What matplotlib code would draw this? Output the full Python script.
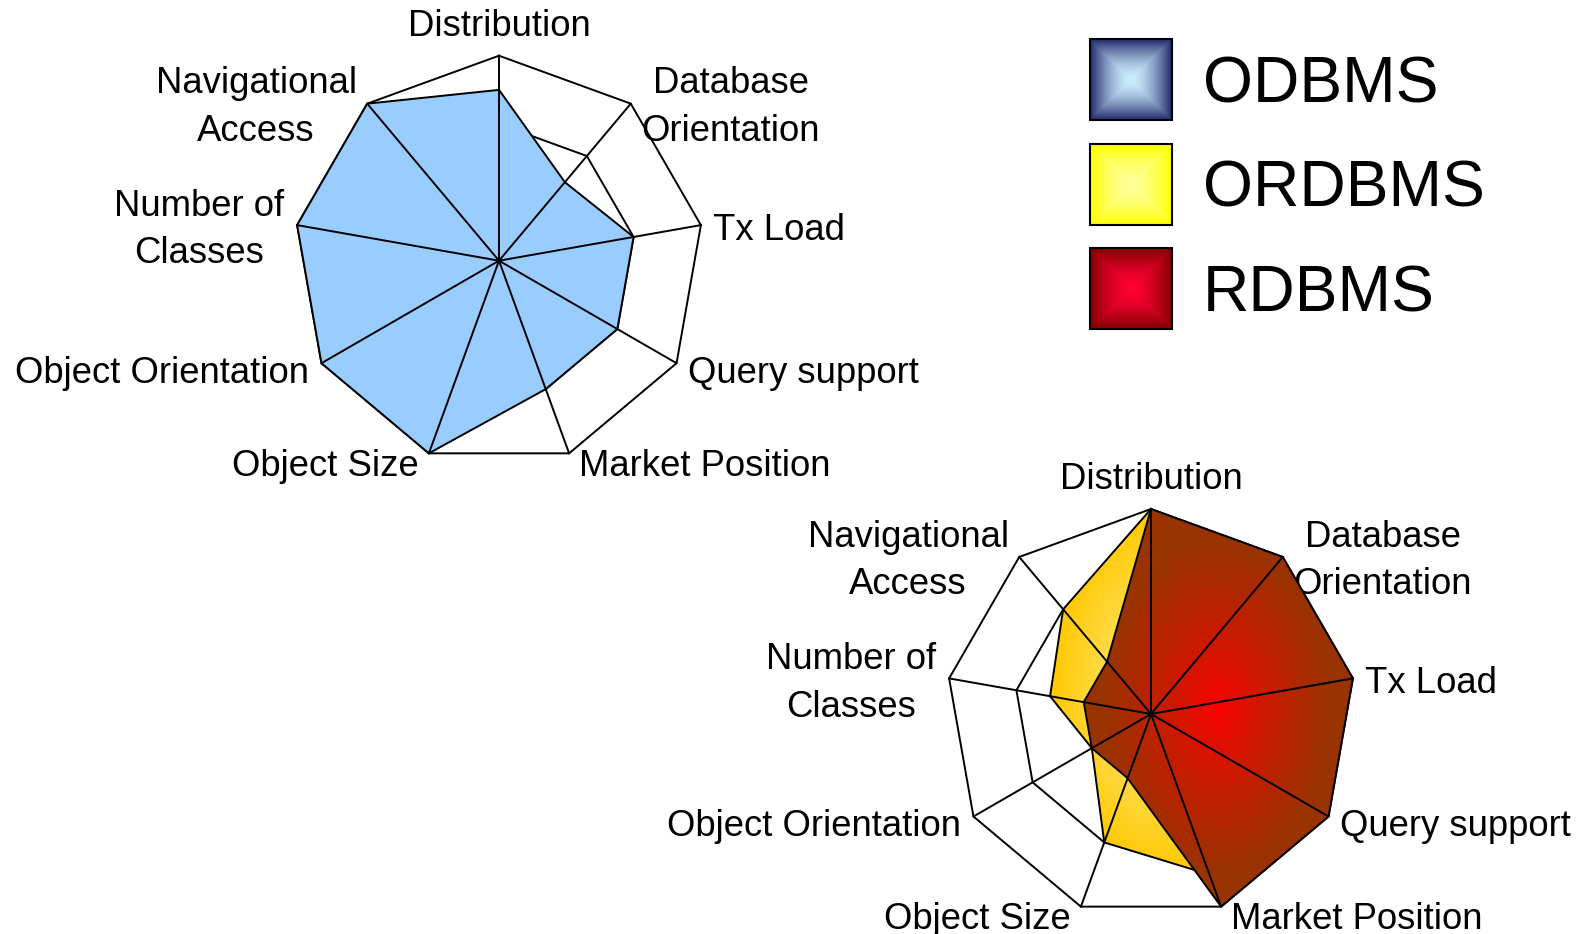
import numpy as np
import matplotlib
matplotlib.use('Agg')
import matplotlib.pyplot as plt
from matplotlib.colors import to_rgb
from matplotlib.patches import Rectangle

plt.rcParams['font.family'] = ['Liberation Sans', 'DejaVu Sans']

# axes of the radar, clockwise from the top
categories = ['Distribution', 'Database\nOrientation', 'Tx Load', 'Query support',
              'Market Position', 'Object Size', 'Object Orientation',
              'Number of\nClasses', 'Navigational\nAccess']

# ratings on a 0..3 scale, same order as categories
odbms = [2.5, 1.5, 2, 2, 2, 3, 3, 3, 3]
ordbms = [3, 2, 2, 2, 2.5, 2, 1, 1.5, 2]
rdbms = [3, 3, 3, 3, 3, 1, 1, 1, 1]

legend_labels = ['ODBMS', 'ORDBMS', 'RDBMS']
legend_center = ['#CCEEFF', '#FFFF99', '#FF0033']
legend_edge = ['#1F2A6B', '#FFFF00', '#800000']

r_max = 3
rings = [1, 2, 3]

W, H = 1583, 934
fig = plt.figure(figsize=(W / 100, H / 100), dpi=100)

n = len(categories)
theta = np.arange(n) * 2 * np.pi / n
theta_c = np.append(theta, theta[0])

# label offsets from the outer vertex, in pixels (dx right, dy down)
lab_dx = [0, 10.5, 12.5, 11.5, 10, -10, -12, -12.5, -10.5]
lab_dy = [-29.5, 4, 5, 10.5, 13, 13, 10.5, 5, 4]
lab_ha = ['center'] + ['left'] * 4 + ['right'] * 4


def setup_radar(cx, cy, R):
    ax = fig.add_axes([(cx - R) / W, (H - cy - R) / H, 2 * R / W, 2 * R / H],
                      projection='polar')
    ax.set_theta_zero_location('N')
    ax.set_theta_direction(-1)
    ax.set_ylim(0, r_max)
    ax.set_xticks([])
    ax.set_yticks([])
    ax.grid(False)
    ax.spines['polar'].set_visible(False)
    ax.patch.set_visible(False)
    ax.set_autoscale_on(False)
    for lev in rings:
        ax.plot(theta_c, [lev] * (n + 1), color='black', lw=1.4, zorder=1, clip_on=False)
    for t in theta:
        ax.plot([t, t], [0, r_max], color='black', lw=1.4, zorder=6, clip_on=False)
    for i, t in enumerate(theta):
        ax.annotate(categories[i], xy=(t, r_max), xytext=(lab_dx[i] * 0.72, -lab_dy[i] * 0.72),
                    textcoords='offset points', ha=lab_ha[i], va='center',
                    fontsize=26.3, linespacing=1.47, multialignment='center',
                    annotation_clip=False)
    return ax


def gradient_fill(ax, vals, c_center, c_edge, z, gain=1.0, power=1.0):
    vals = np.array(vals, dtype=float)
    poly, = ax.fill(theta_c, np.append(vals, vals[0]), facecolor='none',
                    edgecolor='black', lw=1.4, zorder=z + 0.5, clip_on=False)
    x = vals * np.sin(theta)
    y = vals * np.cos(theta)
    cx, cy = (x.max() + x.min()) / 2, (y.max() + y.min()) / 2
    hw, hh = (x.max() - x.min()) / 2, (y.max() - y.min()) / 2
    g = np.linspace(-r_max, r_max, 500)
    gx, gy = np.meshgrid(g, g)
    t = np.clip(gain * np.hypot((gx - cx) / hw, (gy - cy) / hh), 0, 1) ** power
    c0, c1 = np.array(to_rgb(c_center)), np.array(to_rgb(c_edge))
    img = c0 + (c1 - c0) * t[..., None]
    im = ax.imshow(img, extent=(0, 1, 0, 1), origin='lower', transform=ax.transAxes,
                   zorder=z, interpolation='bilinear', aspect='equal')
    im.set_clip_path(poly)
    ax.set_ylim(0, r_max)
    ax.set_xlim(0, 2 * np.pi)


# top chart: ODBMS
ax1 = setup_radar(499, 260.7, 205)
ax1.fill(theta_c, odbms + odbms[:1], facecolor='#99CCFF', edgecolor='black',
         lw=1.4, zorder=2, clip_on=False)

# bottom chart: ORDBMS under RDBMS
ax2 = setup_radar(1151, 714, 205)
gradient_fill(ax2, ordbms, '#FFF2A0', '#FFC800', 2)
gradient_fill(ax2, rdbms, '#FF0000', '#993300', 3, gain=1.2, power=0.8)

# legend
leg = fig.add_axes([1080 / W, (H - 340) / H, 420 / W, 310 / H])
leg.set_xlim(0, 420)
leg.set_ylim(310, 0)
leg.set_autoscale_on(False)
leg.axis('off')
s = np.linspace(-1, 1, 200)
sx, sy = np.meshgrid(s, s)
sq = np.maximum(np.abs(sx), np.abs(sy)) ** 1.6
for i, lab in enumerate(legend_labels):
    top = 9.3 + i * 104.5
    c0, c1 = np.array(to_rgb(legend_center[i])), np.array(to_rgb(legend_edge[i]))
    leg.imshow(c0 + (c1 - c0) * sq[..., None], extent=(9.5, 91.5, top + 81, top),
               aspect='auto', interpolation='bilinear')
    leg.add_patch(Rectangle((9.5, top), 82, 81, fill=False, ec='black', lw=1.5))
    leg.text(123, top + 46, lab, fontsize=46.3, ha='left', va='center')
leg.set_xlim(0, 420)
leg.set_ylim(310, 0)

fig.savefig('out.png', dpi=100)
